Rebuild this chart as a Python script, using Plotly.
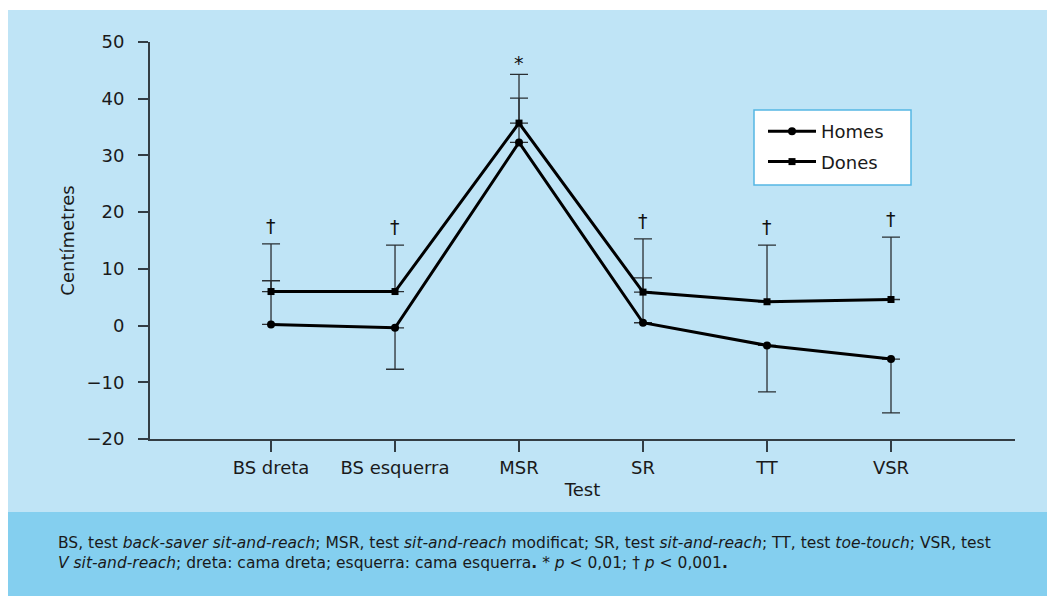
import plotly.graph_objects as go

categories = ["BS dreta", "BS esquerra", "MSR", "SR", "TT", "VSR"]
homes = [0.2, -0.4, 32.3, 0.5, -3.5, -5.9]
homes_err_up = [7.7, 0, 7.8, 7.9, 0, 0]
homes_err_down = [0, 7.3, 0, 0, 8.2, 9.5]
dones = [6.0, 6.0, 35.7, 5.9, 4.2, 4.6]
dones_err_up = [8.4, 8.2, 8.6, 9.4, 10.0, 11.0]
signif = ["†", "†", "*", "†", "†", "†"]
yticks = [-20, -10, 0, 10, 20, 30, 40, 50]

OFF = 8  # default body margin of the html page
W, H = 1055 - OFF, 596 - OFF
FONT = "DejaVu Sans"
LIGHT = "#bfe4f6"
DARK = "#84cfef"
AX = "#333d44"


def px(x):
    return (x - OFF) / W


def py(y):
    return (H - (y - OFF)) / H


xs = list(range(len(categories)))

fig = go.Figure()
fig.add_trace(go.Scatter(
    x=xs, y=homes, name="Homes", mode="lines+markers", legendgroup="h",
    line=dict(color="black", width=3),
    marker=dict(symbol="circle", size=8, color="black"),
    error_y=dict(type="data", symmetric=False, array=homes_err_up,
                 arrayminus=homes_err_down, color="#2a2f33", thickness=1.3, width=9),
))
fig.add_trace(go.Scatter(
    x=xs, y=dones, name="Dones", mode="lines+markers", legendgroup="d",
    line=dict(color="black", width=3),
    marker=dict(symbol="square", size=7, color="black"),
    error_y=dict(type="data", symmetric=False, array=dones_err_up,
                 arrayminus=[0] * len(dones), color="#2a2f33", thickness=1.3, width=9),
))

for i, s in enumerate(signif):
    fig.add_annotation(x=xs[i], y=dones[i] + dones_err_up[i], text=s,
                       showarrow=False, yanchor="bottom", yshift=-2 if s == "*" else 5,
                       font=dict(family=FONT, size=19, color="#111"))

# background panels
fig.add_shape(type="rect", xref="paper", yref="paper",
              x0=px(7), x1=1, y0=py(512), y1=py(10),
              fillcolor=LIGHT, line_width=0, layer="below")
fig.add_shape(type="rect", xref="paper", yref="paper",
              x0=px(7), x1=1, y0=0, y1=py(512),
              fillcolor=DARK, line_width=0, layer="below")
# legend box
fig.add_shape(type="rect", xref="paper", yref="paper",
              x0=px(754), x1=px(911), y0=py(185), y1=py(110),
              fillcolor="white", line=dict(color="#55b6e3", width=1.5), layer="below")

fig.add_annotation(
    xref="paper", yref="paper", x=px(56), y=py(532),
    xanchor="left", yanchor="top", align="left", showarrow=False,
    text=("BS, test <i>back-saver sit-and-reach</i>; MSR, test <i>sit-and-reach</i> modificat; "
          "SR, test <i>sit-and-reach</i>; TT, test <i>toe-touch</i>; VSR, test<br>"
          "<i>V sit-and-reach</i>; dreta: cama dreta; esquerra: cama esquerra<b>.</b> * <i>p</i> &lt; 0,01; "
          "† <i>p</i> &lt; 0,001<b>.</b>"),
    font=dict(family=FONT, size=15.5, color="#1a1a1a"),
)

fig.update_layout(
    width=W, height=H,
    margin=dict(l=0, r=0, t=0, b=0),
    paper_bgcolor="white", plot_bgcolor="rgba(0,0,0,0)",
    font=dict(family=FONT, size=18, color="#1a1a1a"),
    showlegend=True,
    legend=dict(x=px(763), y=py(113), xanchor="left", yanchor="top",
                bgcolor="rgba(0,0,0,0)", borderwidth=0,
                font=dict(family=FONT, size=18, color="#1a1a1a"),
                itemwidth=48, tracegroupgap=4),
    xaxis=dict(domain=[px(150), px(1015)], range=[-0.976, 6.0],
               tickvals=xs, ticktext=categories, ticks="outside", ticklen=11,
               tickcolor=AX, tickwidth=1.5, showline=True, linecolor=AX, linewidth=2,
               showgrid=False, zeroline=False, ticklabelstandoff=0,
               title=dict(text="Test", standoff=7, font=dict(size=18)),
               automargin=False),
    yaxis=dict(domain=[py(439), py(42)], range=[-20, 50],
               tickvals=yticks, ticks="outside", ticklen=10, tickcolor=AX, tickwidth=1.5,
               showline=True, linecolor=AX, linewidth=2, showgrid=False, zeroline=False,
               ticklabelstandoff=10,
               title=dict(text="Centímetres", standoff=7, font=dict(size=18)),
               automargin=False),
)

fig.write_html("out.html")
